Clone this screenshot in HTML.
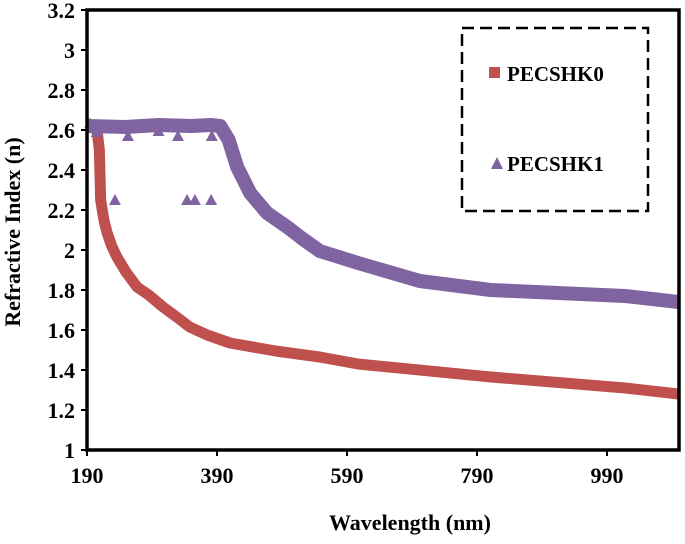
<!DOCTYPE html>
<html><head><meta charset="utf-8"><style>
body{margin:0;background:#fff}
svg text{font-family:"Liberation Serif",serif;font-weight:bold;fill:#000}
</style></head><body>
<svg id="chart" width="685" height="539"></svg>
<script>
const redNm=[190,205,209,211,216,221,228,236,250,267,285,307,330,348,375,410,480,548,607,811,1018,1100];
const redN=[2.635,2.61,2.5,2.25,2.15,2.085,2.02,1.965,1.89,1.815,1.775,1.715,1.66,1.615,1.575,1.535,1.495,1.465,1.43,1.365,1.31,1.28];
const purNm=[190,250,300,350,380,395,408,421,441,467,498,520,548,607,702,811,1018,1100];
const purN=[2.62,2.615,2.625,2.62,2.625,2.62,2.55,2.415,2.285,2.185,2.115,2.06,1.995,1.935,1.845,1.8,1.77,1.74];
const outNm=[233,344,356,381,253,330,382,205,300];
const outN=[2.25,2.25,2.25,2.25,2.57,2.57,2.57,2.59,2.595];
const xTicks=[190,390,590,790,990];
const yTicks=[1,1.2,1.4,1.6,1.8,2,2.2,2.4,2.6,2.8,3,3.2];
const NS="http://www.w3.org/2000/svg";
const svg=document.getElementById('chart');
const L=87,R=679,T=10,B=450;
const X=v=>L+(v-190)/200*130;
const Y=v=>B-(v-1)/0.2*40;
function mk(t,a){const e=document.createElementNS(NS,t);for(const k in a)e.setAttribute(k,a[k]);svg.appendChild(e);return e;}
yTicks.forEach(v=>{
 const t=mk('line',{x1:L-6,x2:L,y1:Y(v),y2:Y(v),stroke:'#000','stroke-width':2});
 
 
 const l=mk('text',{x:L-12,y:Y(v)+8,'text-anchor':'end','font-size':22});
 l.textContent=String(v);
 
 
});
xTicks.forEach(v=>{
 const t=mk('line',{x1:X(v),x2:X(v),y1:B,y2:B+6,stroke:'#000','stroke-width':2});
 
 
 const l=mk('text',{x:X(v),y:B+33,'text-anchor':'middle','font-size':22});
 l.textContent=String(v);
 
 
});
const red=mk('polyline',{points:redNm.map((v,i)=>X(v)+','+Y(redN[i])).join(' '),fill:'none',stroke:'#c0504d','stroke-width':11,'stroke-linejoin':'round'});


const pur=mk('polyline',{points:purNm.map((v,i)=>X(v)+','+Y(purN[i])).join(' '),fill:'none',stroke:'#8064a2','stroke-width':14,'stroke-linejoin':'round'});


outNm.forEach((v,i)=>{
 const x=X(v),y=Y(outN[i]);
 const p=mk('polygon',{points:`${x-6},${y+5} ${x+6},${y+5} ${x},${y-6}`,fill:'#8064a2'});
 
 
});
const fr=mk('rect',{x:L,y:T,width:R-L,height:B-T,fill:'none',stroke:'#000','stroke-width':3.5});


const lg=mk('rect',{x:462,y:28,width:186,height:183,fill:'#fff',stroke:'#000','stroke-width':2.5,'stroke-dasharray':'12,6'});


const s1=mk('rect',{x:489,y:67,width:11,height:11,fill:'#c0504d'});


const t1=mk('text',{x:507,y:81,'font-size':21});t1.textContent='PECSHK0';


const s2=mk('polygon',{points:'491,169 503,169 497,157',fill:'#8064a2'});


const t2=mk('text',{x:507,y:171,'font-size':21});t2.textContent='PECSHK1';


const xt=mk('text',{x:410,y:530,'text-anchor':'middle','font-size':22});xt.textContent='Wavelength (nm)';


const yt=mk('text',{x:0,y:0,'text-anchor':'middle','font-size':22,transform:'translate(20,232) rotate(-90)'});yt.textContent='Refractive Index (n)';


</script>
</body></html>
